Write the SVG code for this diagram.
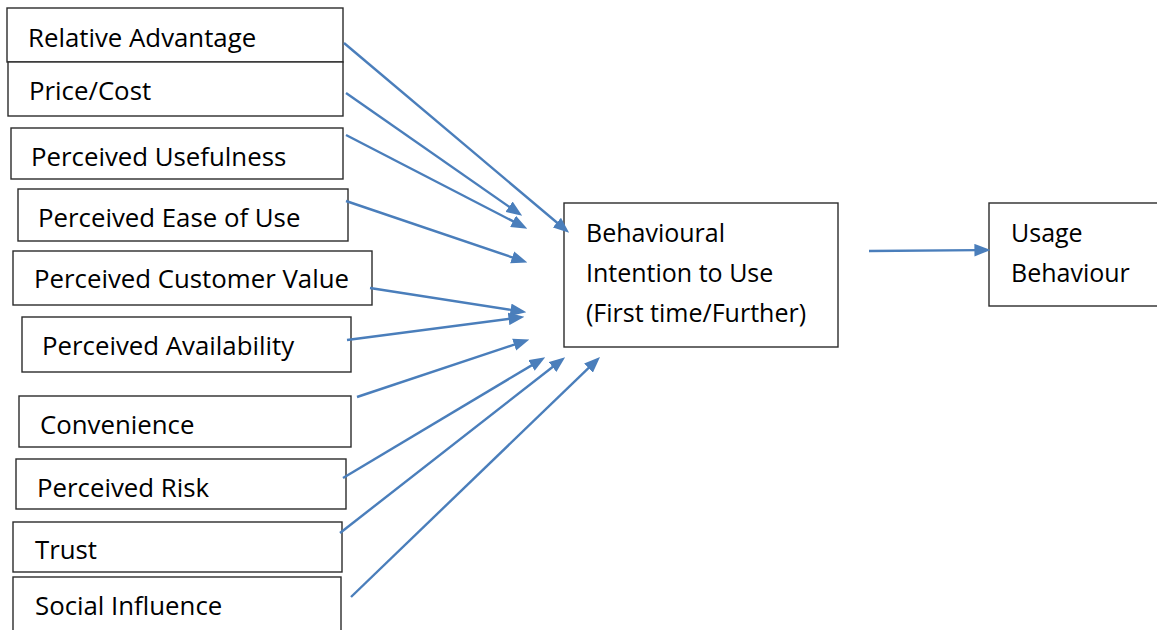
<svg xmlns="http://www.w3.org/2000/svg" width="1157" height="630" viewBox="0 0 1157 630">
<style>
.box{fill:#fff;stroke:#2b2b2b;stroke-width:1.4}
.t{font-family:"Open Sans","Noto Sans","Liberation Sans",sans-serif;font-size:25.8px;fill:#000}
.r{font-size:25px}
.c{stroke:#4a7ebb;stroke-width:2.4;fill:none;marker-end:url(#ah)}
</style>
<defs>
<marker id="ah" markerUnits="userSpaceOnUse" markerWidth="16" markerHeight="13" viewBox="0 0 14 11" refX="4" refY="5.5" orient="auto">
<path d="M0,0 L14,5.5 L0,11 z" fill="#4a7ebb"/>
</marker>
</defs>
<rect width="1157" height="630" fill="#fff"/>
<g id="n1"><rect class="box" x="7" y="8" width="336" height="54"/><text class="t" x="28" y="47">Relative Advantage</text></g>
<g id="n2"><rect class="box" x="8" y="62" width="335" height="54"/><text class="t" x="29" y="100">Price/Cost</text></g>
<g id="n3"><rect class="box" x="11" y="128" width="332" height="51"/><text class="t" x="31" y="166">Perceived Usefulness</text></g>
<g id="n4"><rect class="box" x="18" y="189" width="330" height="52"/><text class="t" x="38" y="227">Perceived Ease of Use</text></g>
<g id="n5"><rect class="box" x="13" y="251" width="359" height="54"/><text class="t" x="34" y="288">Perceived Customer Value</text></g>
<g id="n6"><rect class="box" x="22" y="317" width="329" height="55"/><text class="t" x="42" y="355">Perceived Availability</text></g>
<g id="n7"><rect class="box" x="19" y="396" width="332" height="51"/><text class="t" x="40" y="434">Convenience</text></g>
<g id="n8"><rect class="box" x="16" y="459" width="330" height="50"/><text class="t" x="37" y="497">Perceived Risk</text></g>
<g id="n9"><rect class="box" x="13" y="522" width="329" height="50"/><text class="t" x="35" y="559">Trust</text></g>
<g id="n10"><rect class="box" x="13" y="577" width="328" height="60"/><text class="t" x="35" y="615">Social Influence</text></g>
<g id="bi"><rect class="box" x="564" y="203" width="274" height="144"/><text class="t r" x="586" y="242">Behavioural</text><text class="t r" x="586" y="282">Intention to Use</text><text class="t r" x="586" y="322">(First time/Further)</text></g>
<g id="ub"><rect class="box" x="989" y="203" width="175" height="103"/><text class="t r" x="1011" y="242">Usage</text><text class="t r" x="1011" y="282">Behaviour</text></g>
<g id="connectors">
<line class="c" x1="344" y1="43" x2="560.4" y2="225.5"/>
<line class="c" x1="346" y1="93" x2="512.8" y2="209.3"/>
<line class="c" x1="346" y1="135" x2="517.1" y2="223.4"/>
<line class="c" x1="346" y1="201" x2="516.5" y2="258.8"/>
<line class="c" x1="370" y1="288" x2="515.1" y2="310.5"/>
<line class="c" x1="347" y1="340" x2="513.1" y2="318.3"/>
<line class="c" x1="357" y1="397" x2="518.5" y2="343.2"/>
<line class="c" x1="343" y1="478" x2="535.4" y2="363.1"/>
<line class="c" x1="340" y1="533" x2="556.1" y2="364.2"/>
<line class="c" x1="351" y1="597" x2="591.8" y2="364.9"/>
<line class="c" x1="869" y1="251" x2="979" y2="250.1"/>
</g>
</svg>
